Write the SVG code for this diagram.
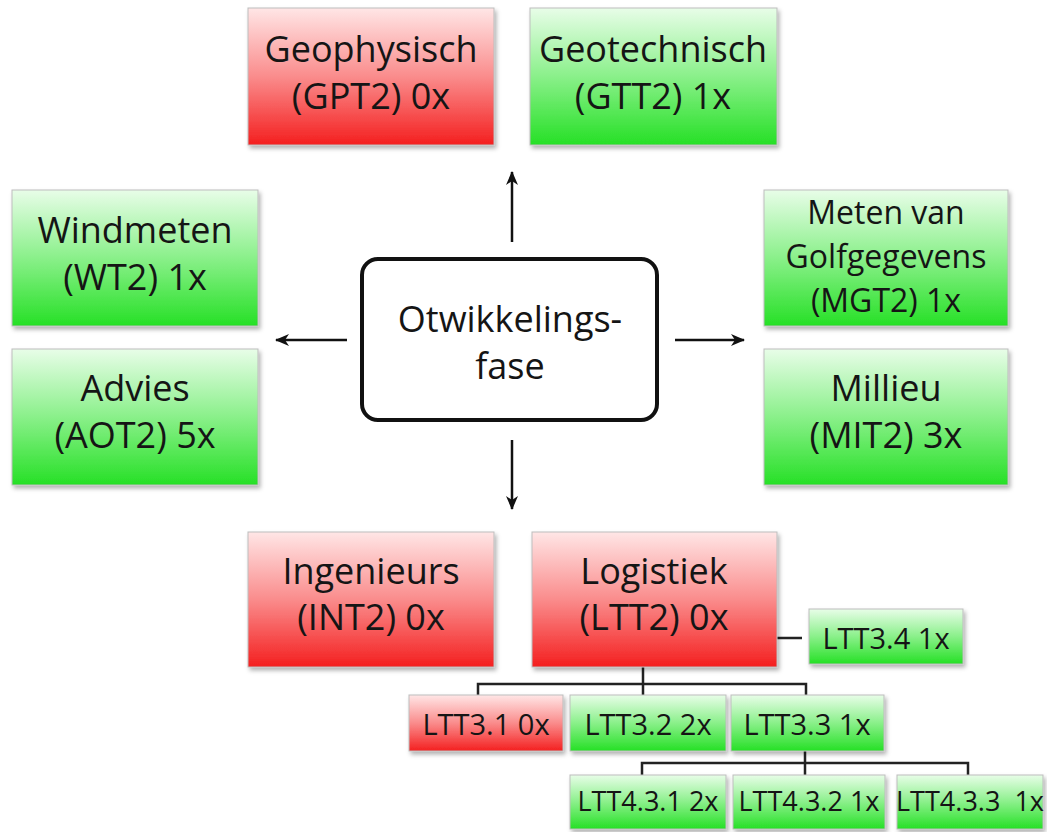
<svg xmlns="http://www.w3.org/2000/svg" width="1047" height="832" viewBox="0 0 1047 832">
<defs>
<linearGradient id="gRed" x1="0" y1="0" x2="0" y2="1">
<stop offset="0" stop-color="#ffe6e6"/>
<stop offset="0.5" stop-color="#fa8c8c"/>
<stop offset="1" stop-color="#f41f1f"/>
</linearGradient>
<linearGradient id="gGreen" x1="0" y1="0" x2="0" y2="1">
<stop offset="0" stop-color="#e8fde8"/>
<stop offset="0.5" stop-color="#8af08a"/>
<stop offset="1" stop-color="#26e026"/>
</linearGradient>
<filter id="sh" x="-10%" y="-10%" width="125%" height="130%">
<feDropShadow dx="2" dy="3" stdDeviation="2" flood-color="#000" flood-opacity="0.3"/>
</filter>
<marker id="arr" viewBox="0 0 14 14" refX="13" refY="7" markerWidth="14" markerHeight="14" markerUnits="userSpaceOnUse" orient="auto">
<path d="M0,1 L14,7 L0,13 L4,7 z" fill="#111"/>
</marker>
</defs>
<style>
.red{fill:url(#gRed);stroke:#bdbdbd;stroke-width:1;filter:url(#sh)}
.green{fill:url(#gGreen);stroke:#bdbdbd;stroke-width:1;filter:url(#sh)}
text{font-family:"Open Sans","Noto Sans",sans-serif;fill:#151515;text-anchor:middle}
.big{font-size:36px}
.mid{font-size:32px}
.sm{font-size:29px}
.xs{font-size:27px}
.arrow{stroke:#111;stroke-width:2.5;fill:none;marker-end:url(#arr)}
.tree{stroke:#222;stroke-width:2.5;fill:none}
</style>
<rect width="1047" height="832" fill="#ffffff"/>

<g id="connectors">
<line class="arrow" x1="512" y1="242" x2="512" y2="172"/>
<line class="arrow" x1="675" y1="340" x2="744" y2="340"/>
<line class="arrow" x1="347" y1="340" x2="276" y2="340"/>
<line class="arrow" x1="512" y1="440" x2="512" y2="509"/>
<path class="tree" d="M643,667 V695 M478,695 V684 H806 V695"/>
<path class="tree" d="M768,638 H802"/>
<path class="tree" d="M805,751 V775 M642,775 V763 H968 V775"/>
</g>

<g id="center">
<rect x="362" y="259" width="295" height="161" rx="16" ry="16" fill="#fff" stroke="#111" stroke-width="4"/>
<text class="big" x="510" y="332">Otwikkelings-</text>
<text class="big" x="510" y="379">fase</text>
</g>

<g id="gpt2">
<rect class="red" x="248" y="8" width="246" height="137"/>
<text class="big" x="371" y="62">Geophysisch</text>
<text class="big" x="371" y="109">(GPT2) 0x</text>
</g>
<g id="gtt2">
<rect class="green" x="530" y="8" width="247" height="137"/>
<text class="big" x="653" y="62">Geotechnisch</text>
<text class="big" x="653" y="109">(GTT2) 1x</text>
</g>
<g id="wt2">
<rect class="green" x="12" y="190" width="246" height="136"/>
<text class="big" x="135" y="243">Windmeten</text>
<text class="big" x="135" y="290">(WT2) 1x</text>
</g>
<g id="aot2">
<rect class="green" x="12" y="349" width="246" height="136"/>
<text class="big" x="135" y="401">Advies</text>
<text class="big" x="135" y="448">(AOT2) 5x</text>
</g>
<g id="mgt2">
<rect class="green" x="764" y="190" width="244" height="136"/>
<text class="mid" x="886" y="224">Meten van</text>
<text class="mid" x="886" y="268">Golfgegevens</text>
<text class="mid" x="886" y="312">(MGT2) 1x</text>
</g>
<g id="mit2">
<rect class="green" x="764" y="349" width="244" height="136"/>
<text class="big" x="886" y="401">Millieu</text>
<text class="big" x="886" y="448">(MIT2) 3x</text>
</g>
<g id="int2">
<rect class="red" x="248" y="532" width="246" height="135"/>
<text class="big" x="371" y="584">Ingenieurs</text>
<text class="big" x="371" y="630">(INT2) 0x</text>
</g>
<g id="ltt2">
<rect class="red" x="532" y="532" width="245" height="135"/>
<text class="big" x="654" y="584">Logistiek</text>
<text class="big" x="654" y="630">(LTT2) 0x</text>
</g>
<g id="ltt34">
<rect class="green" x="809" y="609" width="154" height="55"/>
<text class="sm" x="886" y="649">LTT3.4 1x</text>
</g>
<g id="ltt31">
<rect class="red" x="409" y="695" width="154" height="56"/>
<text class="sm" x="486" y="735">LTT3.1 0x</text>
</g>
<g id="ltt32">
<rect class="green" x="570" y="695" width="156" height="56"/>
<text class="sm" x="648" y="735">LTT3.2 2x</text>
</g>
<g id="ltt33">
<rect class="green" x="731" y="695" width="153" height="56"/>
<text class="sm" x="807" y="735">LTT3.3 1x</text>
</g>
<g id="ltt431">
<rect class="green" x="570" y="775" width="156" height="54"/>
<text class="xs" x="648" y="811">LTT4.3.1 2x</text>
</g>
<g id="ltt432">
<rect class="green" x="733" y="775" width="152" height="54"/>
<text class="xs" x="809" y="811">LTT4.3.2 1x</text>
</g>
<g id="ltt433">
<rect class="green" x="897" y="775" width="146" height="54"/>
<text class="xs" x="970" y="811" xml:space="preserve">LTT4.3.3  1x</text>
</g>
</svg>
